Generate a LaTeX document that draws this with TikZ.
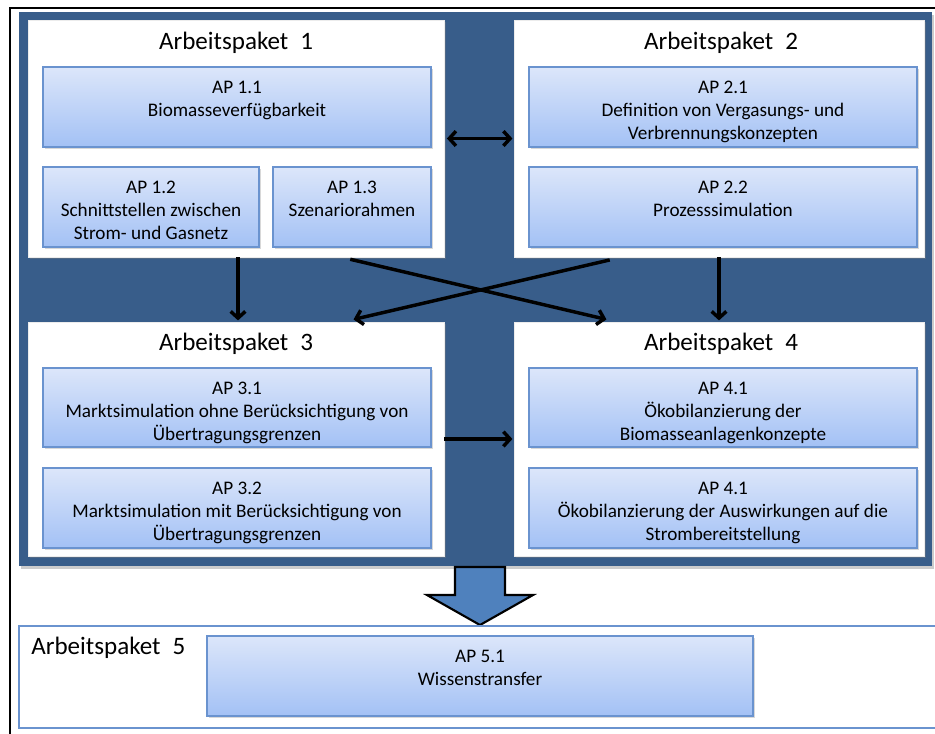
\documentclass[tikz,border=0pt]{standalone}
\usepackage{fontspec}
\setmainfont{Carlito}
\usetikzlibrary{arrows.meta,shadows}
\definecolor{bgblue}{HTML}{385D8A}
\definecolor{boxtop}{HTML}{DCE6FA}
\definecolor{boxbot}{HTML}{A3C1F5}
\definecolor{boxline}{HTML}{6A93CF}
\definecolor{blockfill}{HTML}{4F81BD}
\newcommand\apbox[6]{%
  \node[ibox, minimum width={(#4-#2)*0.75pt}, minimum height={(#5-#3)*0.75pt}] (#1) at ({(#2+#4)/2},{(#3+#5)/2}) {};
  \node[lbl, anchor=north] (#1t) at ({(#2+#4)/2},{#3+14}) {#6};}
\newcommand\appanel[5]{%
  \node[panel, minimum width={(#4-#2)*0.75pt}, minimum height={(#5-#3)*0.75pt}] (#1) at ({(#2+#4)/2},{(#3+#5)/2}) {};}
\begin{document}
\begin{tikzpicture}[x=0.75pt,y=-0.75pt,
  panel/.style={fill=white, draw=gray!15, line width=0.4pt, inner sep=0pt,
    drop shadow={shadow xshift=1.5pt,shadow yshift=-1.5pt,opacity=0.35}},
  ibox/.style={draw=boxline, line width=0.9pt, top color=boxtop, bottom color=boxbot, inner sep=0pt,
    drop shadow={shadow xshift=1.5pt,shadow yshift=-1.5pt,opacity=0.3}},
  lbl/.style={font=\fontsize{14.4}{17.3}\selectfont, align=center, inner sep=0pt},
  head/.style={font=\fontsize{18.8}{22}\selectfont, inner sep=0pt},
  arr/.style={line width=2.6pt, -{Straight Barb[length=5pt,width=11pt]}, shorten >=1pt},
  dbl/.style={line width=2.6pt, {Straight Barb[length=5pt,width=11pt]}-{Straight Barb[length=5pt,width=11pt]}, shorten >=1pt, shorten <=2pt},
]
\useasboundingbox (0,0) rectangle (935,733);
\clip (0,0) rectangle (935,733);

% blue background
\node[fill=bgblue, inner sep=0pt, minimum width={913*0.75pt}, minimum height={554*0.75pt},
  drop shadow={shadow xshift=1.5pt,shadow yshift=-2pt,opacity=0.4}] (bg) at (475.5,289) {};

% panels
\appanel{p1}{28}{20}{444}{257}
\appanel{p2}{514}{20}{924}{257}
\appanel{p3}{28}{322}{444}{556}
\appanel{p4}{514}{322}{924}{556}

\node[head] (h1) at (236,43) {Arbeitspaket\hspace{0.25em} 1};
\node[head] (h2) at (721,43) {Arbeitspaket\hspace{0.25em} 2};
\node[head] (h3) at (236,344) {Arbeitspaket\hspace{0.25em} 3};
\node[head] (h4) at (721,344) {Arbeitspaket\hspace{0.25em} 4};

% inner boxes
\apbox{a11}{43}{67}{431}{147}{AP 1.1\\Biomasseverfügbarkeit}
\apbox{a12}{43}{167}{259}{247}{AP 1.2\\Schnittstellen zwischen\\Strom- und Gasnetz}
\apbox{a13}{273}{167}{431}{247}{AP 1.3\\Szenariorahmen}
\apbox{a21}{529}{67}{917}{147}{AP 2.1\\Definition von Vergasungs- und\\Verbrennungskonzepten}
\apbox{a22}{529}{167}{917}{247}{AP 2.2\\Prozesssimulation}
\apbox{a31}{43}{368}{431}{447}{AP 3.1\\Marktsimulation ohne Berücksichtigung von\\Übertragungsgrenzen}
\apbox{a32}{43}{468}{431}{548}{AP 3.2\\Marktsimulation mit Berücksichtigung von\\Übertragungsgrenzen}
\apbox{a41}{529}{368}{917}{447}{AP 4.1\\Ökobilanzierung der\\Biomasseanlagenkonzepte}
\apbox{a42}{529}{468}{917}{548}{AP 4.1\\Ökobilanzierung der Auswirkungen auf die\\Strombereitstellung}

% connectors
\draw[dbl] (p1.east) -- (p2.west);
\draw[arr] ([xshift=1.5pt]p1.south) -- ([xshift=1.5pt]p3.north);
\draw[arr] (p2.south) -- (p4.north);
\draw[arr] ([xshift=-70.5pt,yshift=-1.5pt]p1.south east) -- ([xshift=70.5pt,yshift=1.5pt]p4.north west);
\draw[arr] ([xshift=72pt,yshift=-2pt]p2.south west) -- ([xshift=-69pt,yshift=1.5pt]p3.north east);
\draw[arr] (p3.east) -- (p4.west);

% block arrow
\draw[fill=blockfill, line width=1.6pt, line join=miter]
  (455,567) -- (505,567) -- (505,595) -- (533,595) -- (480,625) -- (427,595) -- (455,595) -- cycle;

% Arbeitspaket 5
\node[draw=boxline, line width=0.9pt, fill=white, inner sep=0pt, minimum width={930*0.75pt}, minimum height={102*0.75pt},
  drop shadow={shadow xshift=1pt,shadow yshift=-1pt,opacity=0.25}] (p5) at (484,677) {};
\node[head, anchor=west] (h5) at (31,648) {Arbeitspaket\hspace{0.25em} 5};
\apbox{a51}{207}{636}{753}{716}{AP 5.1\\Wissenstransfer}

% frame
\draw[line width=2.2pt] (9,8) -- (936,8);
\draw[line width=2.2pt] (10,7) -- (10,734);
\end{tikzpicture}
\end{document}
